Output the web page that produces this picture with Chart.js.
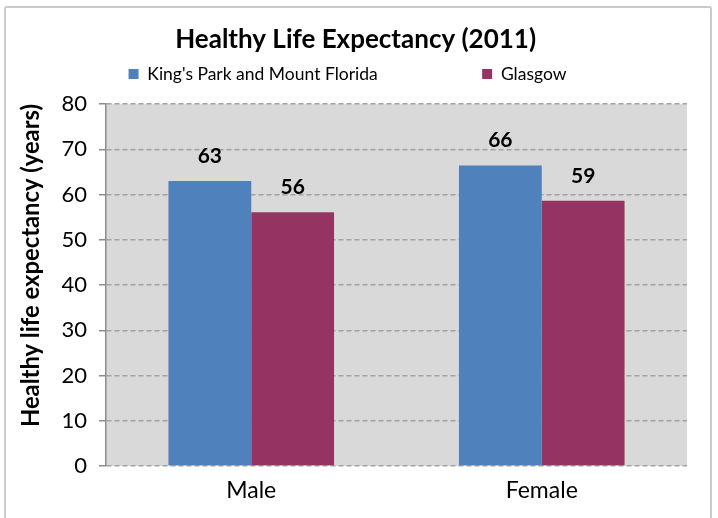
<!DOCTYPE html>
<html>
<head>
<meta charset="utf-8">
<script src="https://cdn.jsdelivr.net/npm/chart.js@4.4.1/dist/chart.umd.min.js"></script>
<style>
  html, body { margin: 0; padding: 0; background: #fff; overflow: hidden; }
  #wrap { position: relative; width: 718px; height: 518px; }
  #frame { position: absolute; left: 4px; top: 6px; width: 704px; height: 520px;
           border: 2px solid #cbcbcb; border-radius: 3px; pointer-events: none; }
</style>
</head>
<body>
<div id="wrap">
  <canvas id="lifeChart" width="718" height="518"></canvas>
  <div id="frame"></div>
</div>
<script>
// Datos
const categories = ['Male', 'Female'];
const kingsPark = [63.0, 66.4];
const glasgow = [56.1, 58.6];
const yTicks = [0, 10, 20, 30, 40, 50, 60, 70, 80];

const FONT = "Lato, 'Open Sans', sans-serif";

// Fondo gris del área de trazado
const plotBackground = {
    id: 'plotBackground',
    beforeDraw(chart) {
        const { ctx, chartArea: a } = chart;
        ctx.save();
        ctx.fillStyle = '#d9d9d9';
        ctx.fillRect(a.left, a.top, a.right - a.left, a.bottom - a.top);
        ctx.restore();
    }
};

// Etiquetas de valor encima de cada barra
const valueLabels = {
    id: 'valueLabels',
    afterDatasetsDraw(chart) {
        const ctx = chart.ctx;
        ctx.save();
        ctx.font = "bold 21px " + FONT;
        ctx.fillStyle = '#000';
        ctx.textAlign = 'center';
        ctx.textBaseline = 'middle';
        chart.data.datasets.forEach((ds, i) => {
            chart.getDatasetMeta(i).data.forEach((bar, j) => {
                ctx.fillText(Math.round(ds.data[j]), bar.x, bar.y - 25);
            });
        });
        ctx.restore();
    }
};

new Chart(document.getElementById('lifeChart'), {
    type: 'bar',
    data: {
        labels: categories,
        datasets: [
            { label: "King's Park and Mount Florida", data: kingsPark, backgroundColor: '#4f81bd' },
            { label: 'Glasgow', data: glasgow, backgroundColor: '#953462' }
        ]
    },
    options: {
        responsive: false,
        animation: false,
        events: [],
        categoryPercentage: 0.57,
        barPercentage: 1.0,
        layout: { padding: { left: 8, right: 31, top: 0, bottom: 0 } },
        plugins: {
            title: {
                display: true,
                // espacio inicial para centrar el título sobre todo el lienzo
                text: '\u2002\u2009Healthy Life Expectancy (2011)',
                color: '#000',
                font: { family: FONT, size: 26, weight: 'bold' },
                padding: { top: 24, bottom: 0 }
            },
            // hueco vacío entre la leyenda y el área de trazado
            subtitle: {
                display: true,
                text: ' ',
                weight: 500,
                font: { size: 1 },
                padding: { top: 0, bottom: 10.1 }
            },
            legend: {
                display: true,
                labels: {
                    color: '#000',
                    font: { family: FONT, size: 17.5 },
                    boxWidth: 10,
                    boxHeight: 10,
                    padding: 10,
                    // separador invisible para abrir el hueco entre las dos entradas
                    generateLabels(chart) {
                        const items = Chart.defaults.plugins.legend.labels.generateLabels(chart);
                        items.forEach(it => { it.lineWidth = 0; it.strokeStyle = 'rgba(0,0,0,0)'; });
                        items.splice(1, 0, {
                            text: '\u2003\u2003\u2003\u2003\u2003',
                            fillStyle: 'rgba(0,0,0,0)',
                            strokeStyle: 'rgba(0,0,0,0)',
                            lineWidth: 0,
                            hidden: false,
                            datasetIndex: -1
                        });
                        return items;
                    }
                }
            },
            tooltip: { enabled: false }
        },
        scales: {
            x: {
                grid: { display: false },
                border: { display: false },
                ticks: { color: '#000', font: { family: FONT, size: 23 }, padding: 3 },
                afterFit(scale) { scale.height = 52; }
            },
            y: {
                min: 0,
                max: 80,
                afterBuildTicks(scale) { scale.ticks = yTicks.map(v => ({ value: v })); },
                ticks: { color: '#000', font: { family: FONT, size: 22 }, padding: 12 },
                grid: { color: '#a3a3a3', lineWidth: 1.5, tickLength: 7, tickColor: '#8c8c8c', tickWidth: 1.5 },
                border: { display: true, color: '#8c8c8c', width: 1.5, dash: [5, 3] },
                title: {
                    display: true,
                    text: 'Healthy life expectancy (years)',
                    align: 'end',
                    color: '#000',
                    font: { family: FONT, size: 23.8, weight: 'bold' },
                    padding: { top: 9, bottom: 0 }
                },
                afterFit(scale) { scale.width = 98; }
            }
        }
    },
    plugins: [plotBackground, valueLabels]
});
</script>
</body>
</html>
